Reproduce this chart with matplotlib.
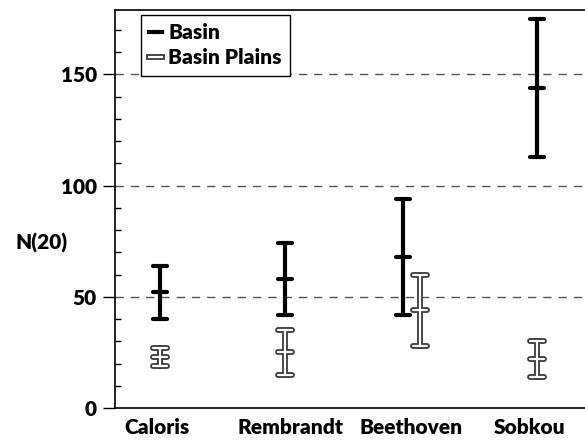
import matplotlib.pyplot as plt
from matplotlib.lines import Line2D
import matplotlib.patheffects as pe
from matplotlib.ticker import MultipleLocator

# craters and N(20) values (mid, upper, lower)
craters = ['Caloris', 'Rembrandt', 'Beethoven', 'Sobkou']
label_x = [42, 175, 296, 415]

basin_x = [45, 170, 288, 422]
basin_mid = [52, 58, 68, 144]
basin_hi = [64, 74, 94, 175]
basin_lo = [40, 42, 42, 113]

plains_x = [45, 170, 305, 422]
plains_mid = [23, 25, 44, 22]
plains_hi = [27, 35, 60, 30]
plains_lo = [19, 15, 28, 14]

plt.rcParams['font.family'] = ['Lato', 'DejaVu Sans']
FW = 'heavy'
FS = 15

fig = plt.figure(figsize=(5.85, 4.43), dpi=100)
ax = fig.add_axes([115 / 585, 35 / 443, 480 / 585, 398 / 443])

cap_w = 7  # half width of caps in data units (pixels)


def draw_bars(xs, mids, his, los, color, lw, z):
    for x, m, h, l in zip(xs, mids, his, los):
        ax.plot([x, x], [l, h], color=color, lw=lw, solid_capstyle='round', zorder=z)
        for y in (l, m, h):
            ax.plot([x - cap_w, x + cap_w], [y, y], color=color, lw=lw,
                    solid_capstyle='round', zorder=z)


draw_bars(basin_x, basin_mid, basin_hi, basin_lo, 'black', 3, 3)
# plains: outlined bars (dark outline, white core)
draw_bars(plains_x, plains_mid, plains_hi, plains_lo, '#3a3a3a', 4.2, 3)
draw_bars(plains_x, plains_mid, plains_hi, plains_lo, 'white', 1.6, 4)

ax.set_xlim(0, 480)
ax.set_ylim(0, 179)
ax.set_xticks(label_x)
ax.set_xticklabels(craters, fontsize=FS, fontweight=FW)
ax.tick_params(axis='x', length=0, pad=7)

ax.yaxis.set_major_locator(MultipleLocator(50))
ax.yaxis.set_minor_locator(MultipleLocator(10))
ax.tick_params(axis='y', which='major', direction='out', length=9, width=1, labelsize=FS, pad=4)
ax.tick_params(axis='y', which='minor', direction='in', length=4, width=1)
for lab in ax.get_yticklabels():
    lab.set_fontweight(FW)

for y in (50, 100, 150):
    ax.axhline(y, color='#555555', lw=1, dashes=(6, 5), zorder=1)

ax.spines['right'].set_visible(False)
for s in ('left', 'bottom', 'top'):
    ax.spines[s].set_linewidth(1.2)

ax.set_ylabel('N(20)', rotation=0, fontsize=FS, fontweight=FW, va='center', ha='center')
ax.yaxis.set_label_coords(-0.152, 0.415)

h_basin = Line2D([], [], color='black', lw=3)
h_plains = Line2D([], [], color='white', lw=1.6,
                  path_effects=[pe.Stroke(linewidth=4.2, foreground='#3a3a3a'), pe.Normal()])
leg = ax.legend([h_basin, h_plains], ['Basin', 'Basin Plains'], loc='upper left',
                bbox_to_anchor=(0.054, 0.988), borderaxespad=0, fancybox=False,
                edgecolor='black', framealpha=1, handlelength=0.6, handletextpad=0.3,
                borderpad=0.4, labelspacing=0.3, prop={'weight': FW, 'size': FS})
leg.get_frame().set_linewidth(1)

fig.savefig('out.png', dpi=100)
